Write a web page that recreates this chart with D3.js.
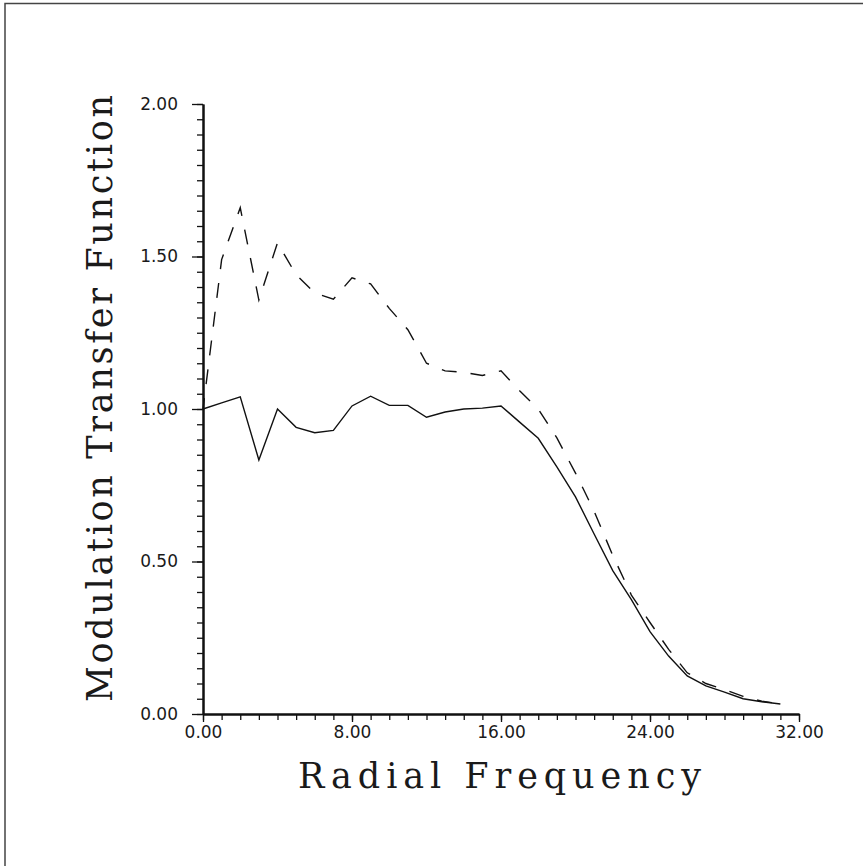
<!DOCTYPE html>
<html lang="en">
<head>
    <meta charset="UTF-8">
    <title>Modulation Transfer Function</title>
    <script src="https://d3js.org/d3.v7.min.js"></script>
    <style>
        body {
            margin: 0;
            background: #fff;
        }

        .axis text {
            font-family: "DejaVu Sans", sans-serif;
            font-size: 17px;
            fill: #1a1a1a;
        }

        .axis line, .axis path {
            stroke: #111;
        }

        .title {
            font-family: "DejaVu Serif", serif;
            font-size: 35px;
            fill: #1a1a1a;
        }
    </style>
</head>
<body>
    <script>
        // data
        const radialFrequency = [0, 1, 2, 3, 4, 5, 6, 7, 8, 9, 10, 11, 12, 13, 14, 15,
            16, 17, 18, 19, 20, 21, 22, 23, 24, 25, 26, 27, 28, 29, 30, 31];
        const mtfSolid = [1.00, 1.02, 1.04, 0.833, 1.00, 0.94, 0.922, 0.93, 1.01, 1.042, 1.012, 1.012, 0.973, 0.99, 1.00, 1.003,
            1.01, 0.957, 0.904, 0.81, 0.712, 0.59, 0.47, 0.375, 0.27, 0.19, 0.125, 0.092, 0.072, 0.05, 0.04, 0.033];
        const mtfDashed = [1.00, 1.49, 1.66, 1.357, 1.545, 1.44, 1.38, 1.36, 1.43, 1.41, 1.33, 1.26, 1.15, 1.125, 1.12, 1.11,
            1.125, 1.06, 1.00, 0.905, 0.79, 0.665, 0.52, 0.39, 0.30, 0.212, 0.135, 0.10, 0.08, 0.058, 0.042, 0.033];

        const xTicks = [0, 8, 16, 24, 32];
        const yTicks = [0, 0.5, 1.0, 1.5, 2.0];

        const svgWidth = 863;
        const svgHeight = 866;
        const margins = {top: 104, right: 64, bottom: 152, left: 203};
        const chartWidth = svgWidth - margins.left - margins.right;
        const chartHeight = svgHeight - margins.top - margins.bottom;

        const root = d3.select("body").append("svg")
            .attr("width", svgWidth)
            .attr("height", svgHeight);

        // page frame from the scan
        root.append("path")
            .attr("d", "M5,866 V3.5 H863")
            .attr("fill", "none")
            .attr("stroke", "#444")
            .attr("stroke-width", 1.5);

        const svg = root.append("g")
            .attr("transform", `translate(${margins.left},${margins.top})`);

        const xScale = d3.scaleLinear().domain([0, 32]).range([0, chartWidth]);
        const yScale = d3.scaleLinear().domain([0, 2]).range([chartHeight, 0]);

        // minor ticks
        svg.append("g")
            .attr("class", "axis")
            .call(d3.axisLeft(yScale).tickValues(d3.range(0, 2.001, 0.05)).tickSize(6).tickSizeOuter(0).tickFormat(""));
        svg.append("g")
            .attr("class", "axis")
            .attr("transform", `translate(0,${chartHeight})`)
            .call(d3.axisBottom(xScale).tickValues(d3.range(0, 33, 1)).tickSize(6).tickSizeOuter(0).tickFormat(""));

        // major ticks + labels
        svg.append("g")
            .attr("class", "axis")
            .call(d3.axisLeft(yScale).tickValues(yTicks).tickSize(11).tickSizeOuter(0)
                .tickPadding(14).tickFormat(d3.format(".2f")));
        svg.append("g")
            .attr("class", "axis")
            .attr("transform", `translate(0,${chartHeight})`)
            .call(d3.axisBottom(xScale).tickValues(xTicks).tickSize(8).tickSizeOuter(0)
                .tickPadding(4).tickFormat(d3.format(".2f")));

        svg.selectAll(".axis .domain").attr("stroke-width", 2);
        svg.selectAll(".axis line").attr("stroke-width", 1.3);

        const line = d3.line()
            .x((d, i) => xScale(radialFrequency[i]))
            .y(d => yScale(d));

        svg.append("path")
            .datum(mtfSolid)
            .attr("fill", "none")
            .attr("stroke", "#111")
            .attr("stroke-width", 1.4)
            .attr("d", line);

        svg.append("path")
            .datum(mtfDashed)
            .attr("fill", "none")
            .attr("stroke", "#111")
            .attr("stroke-width", 1.4)
            .attr("stroke-dasharray", "15,14")
            .attr("stroke-dashoffset", 4)
            .attr("d", line);

        // axis titles
        root.append("text")
            .attr("class", "title")
            .attr("transform", "translate(112,702) rotate(-90)")
            .attr("textLength", 607)
            .attr("lengthAdjust", "spacing")
            .text("Modulation Transfer Function");

        root.append("text")
            .attr("class", "title")
            .attr("x", 298)
            .attr("y", 788)
            .attr("textLength", 403)
            .attr("lengthAdjust", "spacing")
            .text("Radial Frequency");
    </script>
</body>
</html>
